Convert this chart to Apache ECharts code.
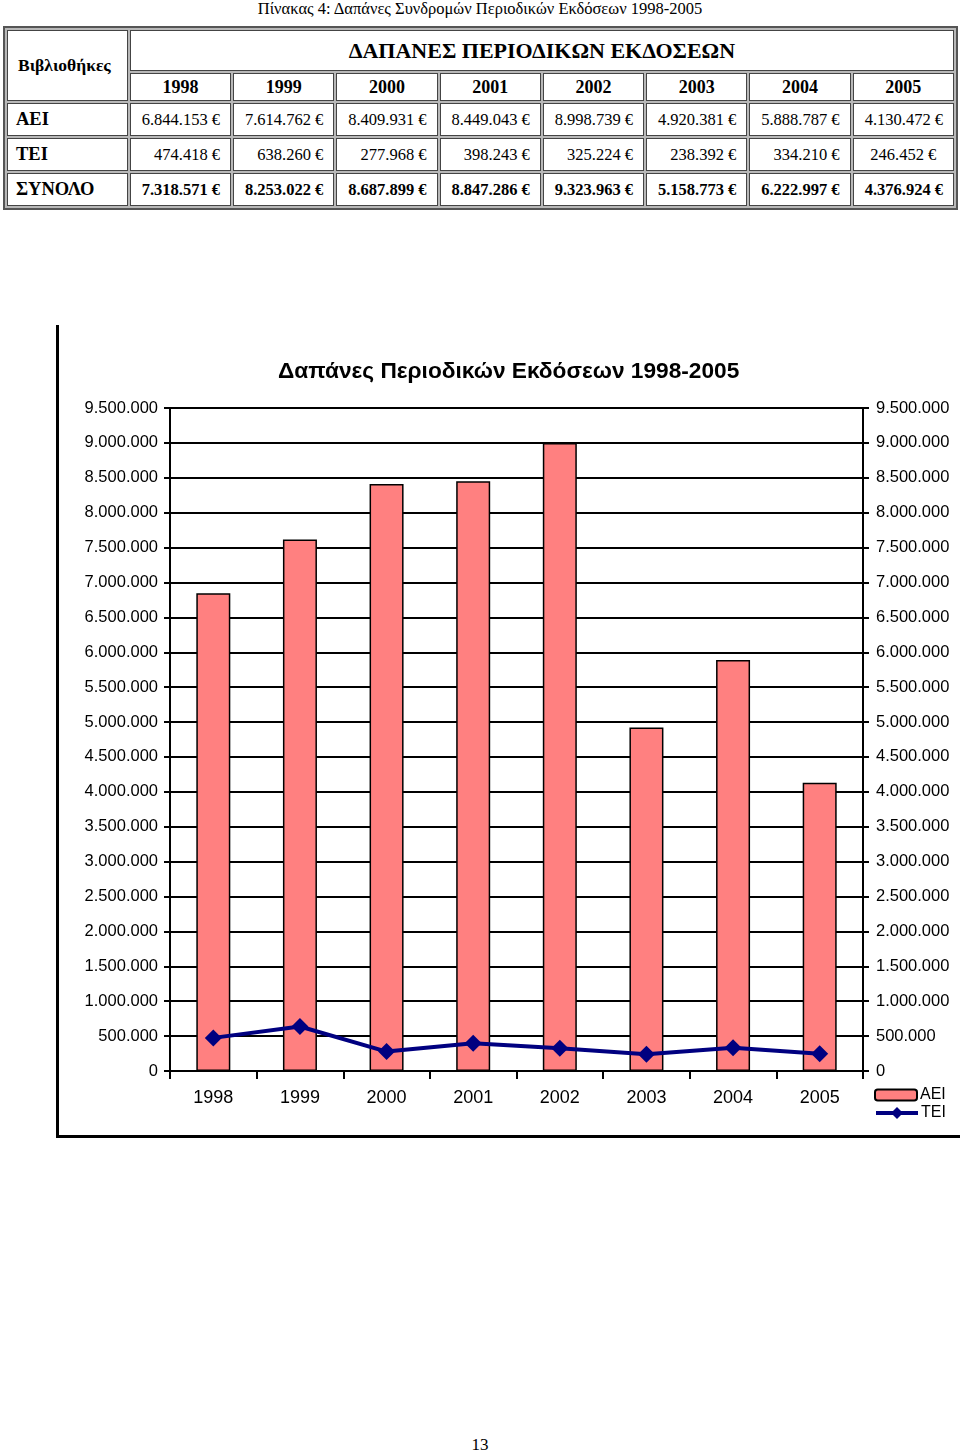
<!DOCTYPE html>
<html>
<head>
<meta charset="utf-8">
<script src="https://cdn.jsdelivr.net/npm/echarts@6/dist/echarts.min.js"></script>
<style>
  html, body { margin:0; padding:0; background:#fff; }
  body { width:960px; height:1452px; position:relative; overflow:hidden; font-family:"Liberation Serif","Times New Roman",serif; color:#000; }
  #caption { position:absolute; top:0; left:0; width:960px; text-align:center; font-size:16.5px; line-height:18px; }
  #tbl { position:absolute; top:26px; left:3px; width:955px; border-collapse:separate; border-spacing:2px; border:2px solid #555; background:#b8b8b8; table-layout:fixed; }
  #tbl td { border:1px solid #444; background:#fff; padding:0 10px 0 4px; font-size:16.5px; white-space:nowrap; overflow:hidden; }
  #tbl td.num { text-align:right; }
  #tbl td.ctr { text-align:center; padding:0; }
  #tbl td.lab { font-weight:bold; font-size:18.5px; padding-left:8px; }
  #tbl td.b { font-weight:bold; }
  #tbl tr.h1 td { height:39px; }
  #tbl tr.h2 td { height:26px; text-align:center; font-weight:bold; font-size:18px; padding:0; }
  #tbl tr.r td { height:31px; vertical-align:middle; }
  #frame { position:absolute; left:56px; top:325px; width:904px; height:810px; border-left:3px solid #000; border-bottom:3px solid #000; }
  #chart { position:absolute; left:0; top:300px; width:960px; height:860px; }
  #page { position:absolute; top:1435px; left:0; width:960px; text-align:center; font-size:17px; }
</style>
</head>
<body>
<div id="caption"></div>
<table id="tbl"></table>
<div id="frame"></div>
<div id="chart"></div>
<div id="page">13</div>
<script>
const captionText = 'Πίνακας 4: Δαπάνες Συνδρομών Περιοδικών Εκδόσεων 1998-2005';
const tableHeader = 'ΔΑΠΑΝΕΣ ΠΕΡΙΟΔΙΚΩΝ ΕΚΔΟΣΕΩΝ';
const rowHeader = 'Βιβλιοθήκες';
const years = ['1998', '1999', '2000', '2001', '2002', '2003', '2004', '2005'];
const rowLabels = ['ΑΕΙ', 'ΤΕΙ', 'ΣΥΝΟΛΟ'];
const aei = [6844153, 7614762, 8409931, 8449043, 8998739, 4920381, 5888787, 4130472];
const tei = [474418, 638260, 277968, 398243, 325224, 238392, 334210, 246452];
const total = [7318571, 8253022, 8687899, 8847286, 9323963, 5158773, 6222997, 4376924];
const chartTitle = 'Δαπάνες Περιοδικών Εκδόσεων 1998-2005';
const seriesNames = ['AEI', 'TEI'];

function fmt(n) {
  return String(n).replace(/\B(?=(\d{3})+(?!\d))/g, '.');
}

document.getElementById('caption').textContent = captionText;

// build table
(function () {
  const t = document.getElementById('tbl');
  let html = '<colgroup><col style="width:120px">';
  for (let i = 0; i < years.length; i++) html += '<col style="width:100.6px">';
  html += '</colgroup>';
  html += '<tr class="h1"><td rowspan="2" class="lab" style="font-size:17.5px;padding-left:10px">' + rowHeader +
          '</td><td colspan="8" style="text-align:center;font-size:22px;font-weight:bold;padding:0">' + tableHeader + '</td></tr>';
  html += '<tr class="h2">' + years.map(y => '<td>' + y + '</td>').join('') + '</tr>';
  const rows = [aei, tei, total];
  rows.forEach((arr, ri) => {
    html += '<tr class="r"><td class="lab">' + rowLabels[ri] + '</td>';
    arr.forEach((v, ci) => {
      let cls = 'num';
      if (ri === 1 && ci === arr.length - 1) cls = 'ctr';
      if (ri === 2) cls += ' b';
      html += '<td class="' + cls + '">' + fmt(v) + ' €</td>';
    });
    html += '</tr>';
  });
  t.innerHTML = html;
})();

const chart = echarts.init(document.getElementById('chart'), null, { renderer: 'canvas' });
const font = '"Liberation Sans", Arial, sans-serif';
const yCommon = {
  type: 'value', min: 0, max: 9500000, interval: 500000,
  axisLine: { show: true, lineStyle: { color: '#000', width: 2 } },
  axisTick: { show: true, length: 6, lineStyle: { color: '#000', width: 2 } },
  axisLabel: { color: '#000', fontSize: 16.5, fontFamily: font, formatter: v => fmt(v) }
};
chart.setOption({
  animation: false,
  textStyle: { fontFamily: font },
  title: {
    text: chartTitle, left: 273, top: 55,
    textStyle: { fontSize: 22.7, fontWeight: 'bold', color: '#000', fontFamily: font }
  },
  legend: [
    {
      data: [{ name: seriesNames[0] }],
      left: 869, top: 782, itemWidth: 42, itemHeight: 11,
      textStyle: { fontSize: 16, color: '#000', fontFamily: font, padding: [0, 0, 0, -2] }
    },
    {
      data: [{ name: seriesNames[1], lineStyle: { width: 4 } }],
      left: 869, top: 800, itemWidth: 42, itemHeight: 15,
      textStyle: { fontSize: 16, color: '#000', fontFamily: font, padding: [0, 0, 0, -2] }
    }
  ],
  grid: { left: 170, right: 97, top: 108, bottom: 89, containLabel: false },
  xAxis: {
    type: 'category', data: years, boundaryGap: true,
    axisLine: { lineStyle: { color: '#000', width: 2 } },
    axisTick: { show: true, alignWithLabel: false, interval: 0, length: 8, lineStyle: { color: '#000', width: 2 } },
    axisLabel: { color: '#000', fontSize: 18, fontFamily: font, margin: 18, interval: 0 }
  },
  yAxis: [
    Object.assign({}, yCommon, {
      position: 'left',
      splitLine: { show: true, lineStyle: { color: '#000', width: 2 } },
      axisLabel: Object.assign({}, yCommon.axisLabel, { margin: 12 })
    }),
    Object.assign({}, yCommon, {
      position: 'right',
      splitLine: { show: false },
      axisLabel: Object.assign({}, yCommon.axisLabel, { margin: 13 })
    })
  ],
  series: [
    {
      name: seriesNames[0], type: 'bar', data: aei, barWidth: 34, yAxisIndex: 0,
      itemStyle: { color: '#FF8080', borderColor: '#000', borderWidth: 1.5 }
    },
    {
      name: seriesNames[1], type: 'line', data: tei, yAxisIndex: 0, z: 5,
      symbol: 'diamond', symbolSize: 17,
      lineStyle: { color: '#000080', width: 4 },
      itemStyle: { color: '#000080' }
    }
  ]
});
</script>
</body>
</html>
